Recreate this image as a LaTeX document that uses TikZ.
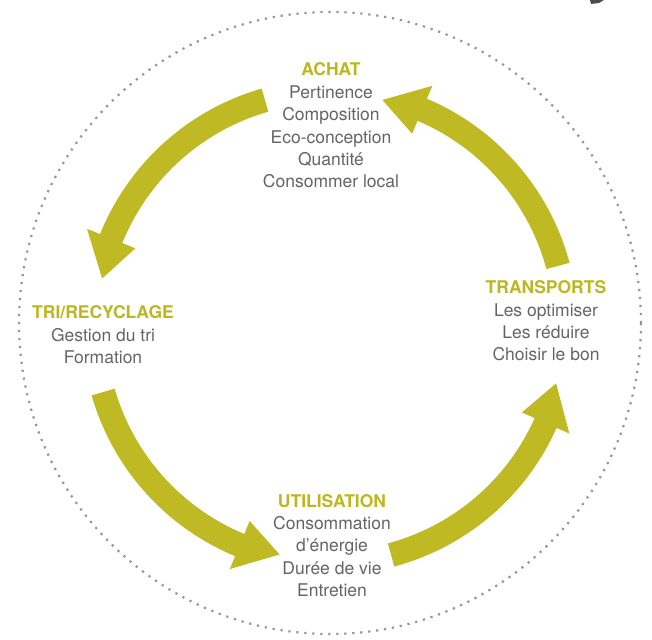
\documentclass[tikz,border=0pt]{standalone}
\usepackage{fontspec}
\setmainfont{TeX Gyre Heros}
\usetikzlibrary{calc}
\definecolor{olivearrow}{RGB}{191,185,35}
\definecolor{olivetext}{RGB}{189,182,33}
\definecolor{txtgray}{RGB}{100,100,100}
\definecolor{dotgray}{RGB}{150,150,150}
\newcommand\cyclearrow[2]{%
  \pgfmathsetmacro\baseang{#2-10}%
  \fill[olivearrow] ($(C)+(#1:224)$) arc[start angle=#1, end angle=\baseang, radius=224]
    -- ($(C)+(\baseang:210)$) -- ($(C)+(#2:233)$) -- ($(C)+(\baseang:262)$)
    -- ($(C)+(\baseang:248)$) arc[start angle=\baseang, end angle=#1, radius=248] -- cycle;}
\tikzset{
  lbl/.style={font=\fontsize{17.5}{22.4}\selectfont, text=txtgray, align=center, inner sep=0pt},
  dotring/.style={draw=dotgray, line width=2.2pt, dash pattern=on 2.2pt off 5.8pt}
}
\newcommand\ttl[1]{\textcolor{olivetext}{\bfseries #1}}
\begin{document}
\begin{tikzpicture}[x=1pt,y=1pt]
\useasboundingbox (0,0) rectangle (652,639);
\coordinate (C) at (330,312);
\coordinate (D) at (330,316);
\draw[dotring] (D) circle[radius=311];
\cyclearrow{106}{168}
\cyclearrow{196}{257.5}
\cyclearrow{285}{346}
\cyclearrow{15}{77}
\node[lbl] (achat) at (331,513.5) {\ttl{ACHAT}\\Pertinence\\Composition\\Eco-conception\\Quantité\\Consommer local};
\node[lbl] (tri) at (103,304) {\ttl{TRI/RECYCLAGE}\\Gestion du tri\\Formation};
\node[lbl] (transports) at (546,318) {\ttl{TRANSPORTS}\\Les optimiser\\Les réduire\\Choisir le bon};
\node[lbl] (utilisation) at (332,93.5) {\ttl{UTILISATION}\\Consommation\\d’énergie\\Durée de vie\\Entretien};
\fill[black!70] (590,639) -- (604,639) -- (599,636) -- (591,635) -- cycle;
\end{tikzpicture}
\end{document}
